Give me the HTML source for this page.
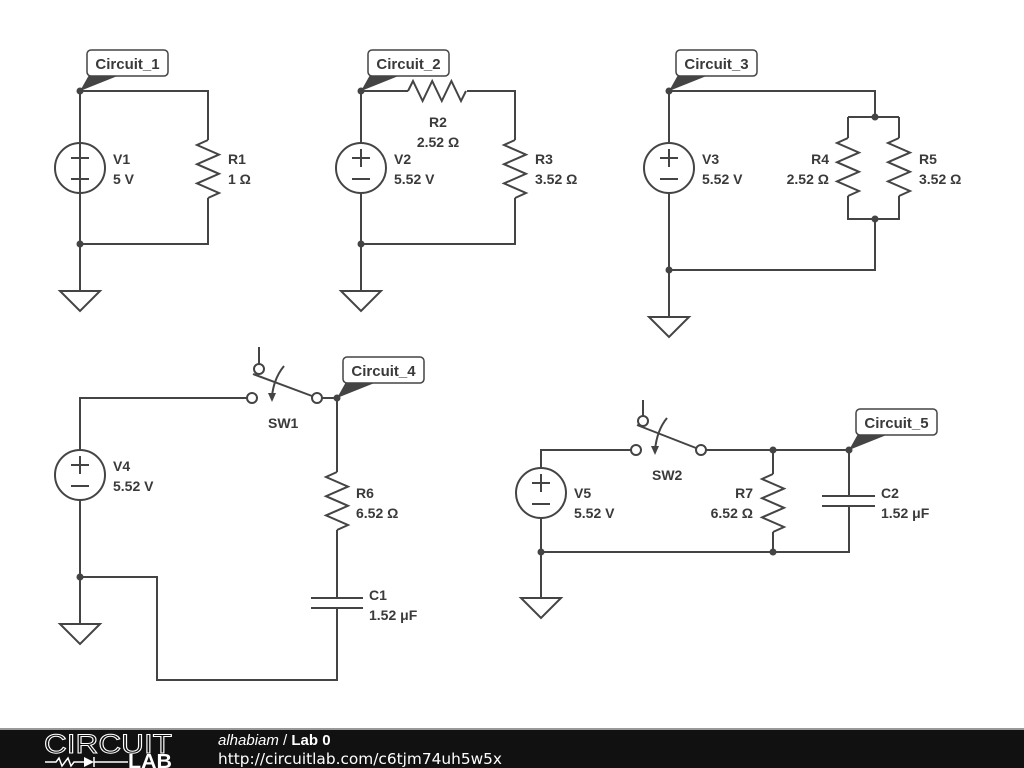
<!DOCTYPE html>
<html><head><meta charset="utf-8"><style>
html,body{margin:0;padding:0;background:#fff;}
svg{display:block;}
text{font-family:"Liberation Sans",Arial,sans-serif;font-weight:bold;font-size:14px;fill:#3a3a3a;}
.lb{font-size:15px;}
</style></head><body>
<svg width="1024" height="768" viewBox="0 0 1024 768" xmlns="http://www.w3.org/2000/svg">
<g fill="none" stroke="#444" stroke-width="2" stroke-linejoin="miter">
<path d="M80 91 H208 V140 M208 198 V244 H80 V142 M80 194 V291"/>
<path d="M208 140 l-11 5 l22 9.6 l-22 9.6 l22 9.6 l-22 9.6 l22 9.6 l-11 5"/>
<circle cx="80" cy="168" r="25"/>
<path d="M80 91 V143"/>
<path d="M60 291 H100 L80 311 Z"/>
<path d="M361 91 H408 M467 91 H515 V140 M515 198 V244 H361 M361 91 V143 M361 194 V291"/>
<path d="M408 91 l5 -10 l9.6 20 l9.6 -20 l9.6 20 l9.6 -20 l9.6 20 l5 -10"/>
<path d="M515 140 l-11 5 l22 9.6 l-22 9.6 l22 9.6 l-22 9.6 l22 9.6 l-11 5"/>
<circle cx="361" cy="168" r="25"/>
<path d="M341 291 H381 L361 311 Z"/>
<path d="M669 91 H875 V117 M848 117 H899 M848 117 V138 M899 117 V138 M848 196 V219 H899 V196 M875 219 V270 H669 M669 91 V143 M669 194 V317"/>
<path d="M848 138 l-11 5 l22 9.6 l-22 9.6 l22 9.6 l-22 9.6 l22 9.6 l-11 5"/>
<path d="M899 138 l-11 5 l22 9.6 l-22 9.6 l22 9.6 l-22 9.6 l22 9.6 l-11 5"/>
<circle cx="669" cy="168" r="25"/>
<path d="M649 317 H689 L669 337 Z"/>
<path d="M80 450 V398 H247 M321 398 H337 V472 M337 530 V598 M337 608 V680 H157 V577 H80 V500 M80 577 V624"/>
<path d="M337 472 l-11 5 l22 9.6 l-22 9.6 l22 9.6 l-22 9.6 l22 9.6 l-11 5"/>
<path d="M311 598 H363 M311 608 H363"/>
<circle cx="80" cy="475" r="25"/>
<path d="M60 624 H100 L80 644 Z"/>
<circle cx="252" cy="398" r="5" fill="#fff"/>
<circle cx="317" cy="398" r="5" fill="#fff"/>
<path d="M259 347 V364"/>
<circle cx="259" cy="369" r="5" fill="#fff"/>
<path d="M253 374 L312 396"/>
<path d="M284 366 Q274 378 272 396"/>
<path d="M541 468 V450 H631 M706 450 H849 V496 M849 506 V552 H541 V518 M541 552 V598 M773 450 V474 M773 532 V552"/>
<path d="M773 474 l-11 5 l22 9.6 l-22 9.6 l22 9.6 l-22 9.6 l22 9.6 l-11 5"/>
<path d="M822 496 H875 M822 506 H875"/>
<circle cx="541" cy="493" r="25"/>
<path d="M521 598 H561 L541 618 Z"/>
<circle cx="636" cy="450" r="5" fill="#fff"/>
<circle cx="701" cy="450" r="5" fill="#fff"/>
<path d="M643 400 V416"/>
<circle cx="643" cy="421" r="5" fill="#fff"/>
<path d="M637 425 L696 448"/>
<path d="M667 418 Q657 430 655 450"/>
<path d="M71 158 H89 M80 149 V167 M71 179 H89"/>
<path d="M352 158 H370 M361 149 V167 M352 179 H370"/>
<path d="M660 158 H678 M669 149 V167 M660 179 H678"/>
<path d="M71 465 H89 M80 456 V474 M71 486 H89"/>
<path d="M532 483 H550 M541 474 V492 M532 504 H550"/>
</g>
<g fill="#444">
<path d="M268 393 L276 393 L272 402 Z"/>
<path d="M651 446 L659 446 L655 455 Z"/>
<circle cx="80" cy="91" r="3.5"/><circle cx="80" cy="244" r="3.5"/>
<circle cx="361" cy="91" r="3.5"/><circle cx="361" cy="244" r="3.5"/>
<circle cx="669" cy="91" r="3.5"/><circle cx="669" cy="270" r="3.5"/>
<circle cx="875" cy="117" r="3.5"/><circle cx="875" cy="219" r="3.5"/>
<circle cx="337" cy="398" r="3.5"/><circle cx="80" cy="577" r="3.5"/>
<circle cx="773" cy="450" r="3.5"/><circle cx="849" cy="450" r="3.5"/>
<circle cx="541" cy="552" r="3.5"/><circle cx="773" cy="552" r="3.5"/>
<path d="M80 91 L89 75 L120 75 Z"/>
<path d="M361 91 L370 75 L401 75 Z"/>
<path d="M669 91 L678 75 L709 75 Z"/>
<path d="M337 398 L346 382 L377 382 Z"/>
<path d="M849 450 L858 434 L889 434 Z"/>
</g>
<g fill="#fff" stroke="#444" stroke-width="1.5">
<rect x="87" y="50" width="81" height="26" rx="4"/>
<rect x="368" y="50" width="81" height="26" rx="4"/>
<rect x="676" y="50" width="81" height="26" rx="4"/>
<rect x="343" y="357" width="81" height="26" rx="4"/>
<rect x="856" y="409" width="81" height="26" rx="4"/>
</g>
<text class="lb" x="127.5" y="69" text-anchor="middle">Circuit_1</text>
<text class="lb" x="408.5" y="69" text-anchor="middle">Circuit_2</text>
<text class="lb" x="716.5" y="69" text-anchor="middle">Circuit_3</text>
<text class="lb" x="383.5" y="376" text-anchor="middle">Circuit_4</text>
<text class="lb" x="896.5" y="428" text-anchor="middle">Circuit_5</text>
<text x="113" y="164">V1</text><text x="113" y="184">5 V</text>
<text x="228" y="164">R1</text><text x="228" y="184">1 Ω</text>
<text x="394" y="164">V2</text><text x="394" y="184">5.52 V</text>
<text x="438" y="127" text-anchor="middle">R2</text><text x="438" y="147" text-anchor="middle">2.52 Ω</text>
<text x="535" y="164">R3</text><text x="535" y="184">3.52 Ω</text>
<text x="702" y="164">V3</text><text x="702" y="184">5.52 V</text>
<text x="829" y="164" text-anchor="end">R4</text><text x="829" y="184" text-anchor="end">2.52 Ω</text>
<text x="919" y="164">R5</text><text x="919" y="184">3.52 Ω</text>
<text x="113" y="471">V4</text><text x="113" y="491">5.52 V</text>
<text x="268" y="428">SW1</text>
<text x="356" y="498">R6</text><text x="356" y="518">6.52 Ω</text>
<text x="369" y="600">C1</text><text x="369" y="620">1.52 μF</text>
<text x="574" y="498">V5</text><text x="574" y="518">5.52 V</text>
<text x="652" y="480">SW2</text>
<text x="753" y="498" text-anchor="end">R7</text><text x="753" y="518" text-anchor="end">6.52 Ω</text>
<text x="881" y="498">C2</text><text x="881" y="518">1.52 μF</text>
<rect x="0" y="728" width="1024" height="2" fill="#999"/>
<rect x="0" y="730" width="1024" height="38" fill="#111"/>
<text x="44" y="753" style="font-weight:normal;font-size:27px;fill:none;stroke:#fff;stroke-width:1" textLength="128" lengthAdjust="spacingAndGlyphs">CIRCUIT</text>
<path d="M45 762 H56 l3 -4 l3 8 l3 -4 l3 -4 l3 8 l3 -4 H84 M94 757 V767 M94 762 H128" fill="none" stroke="#fff" stroke-width="1.5"/>
<path d="M84 757 V767 L94 762 Z" fill="#fff"/>
<text x="128" y="768" style="font-size:20px;fill:#fff" textLength="44" lengthAdjust="spacingAndGlyphs">LAB</text>
<text x="218" y="745" style="font-size:15px;fill:#fff"><tspan style="font-style:italic;font-weight:normal">alhabiam</tspan><tspan style="font-weight:normal"> / </tspan>Lab 0</text>
<text x="218" y="764" style="font-size:15px;fill:#fff;font-weight:normal;font-family:'DejaVu Sans',sans-serif" textLength="284" lengthAdjust="spacingAndGlyphs">http://circuitlab.com/c6tjm74uh5w5x</text>
</svg>
</body></html>
